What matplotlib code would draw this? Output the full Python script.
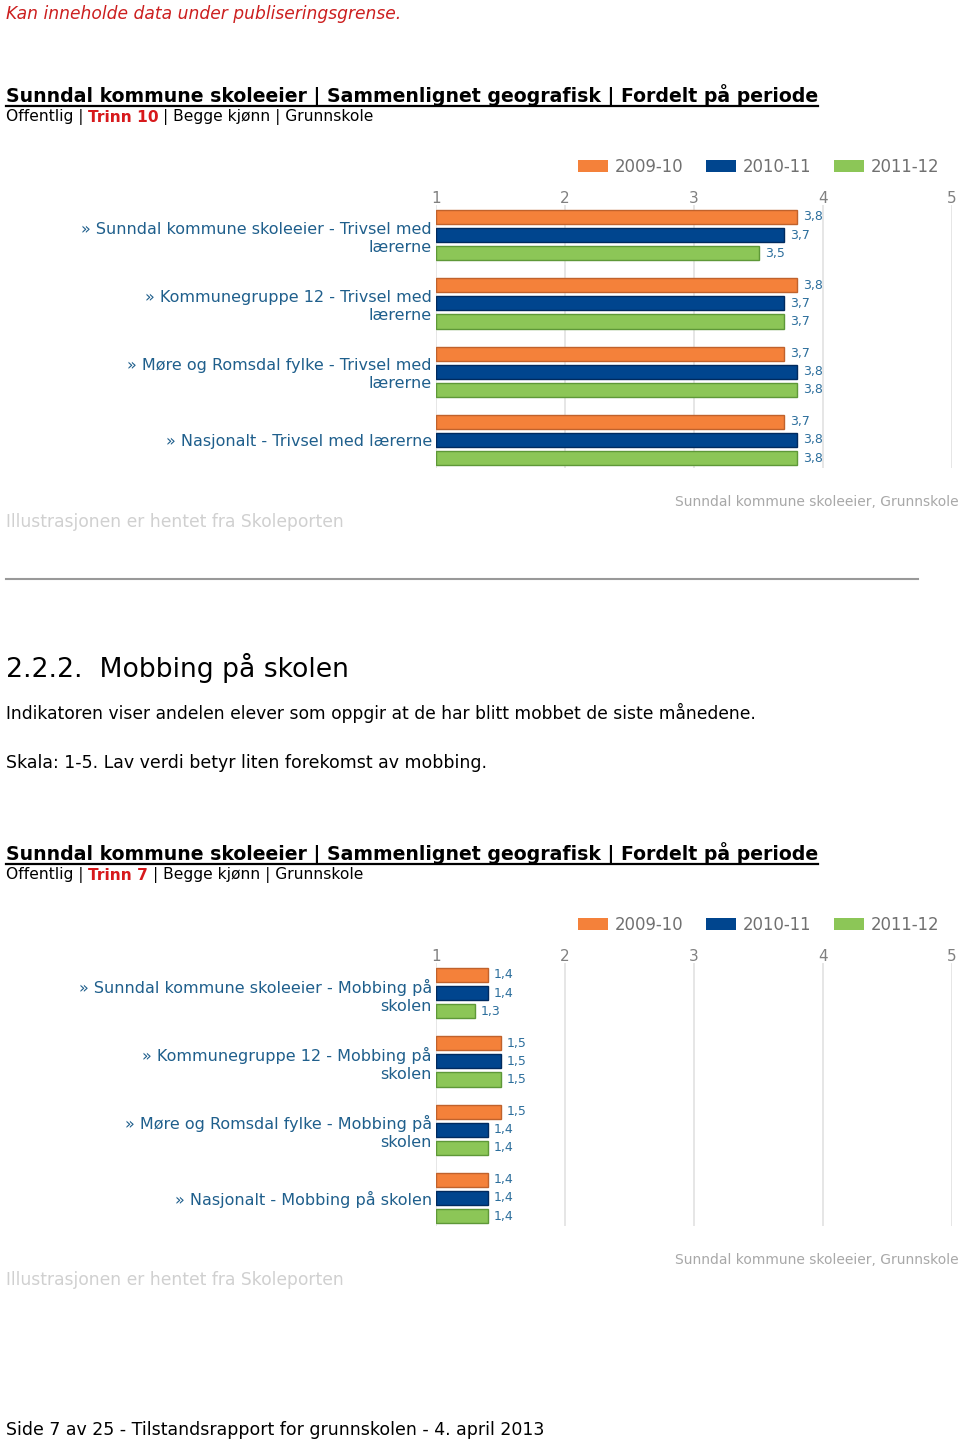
import numpy as np
import matplotlib as mpl
import matplotlib.pyplot as plt
from matplotlib.lines import Line2D
from matplotlib.patches import Patch

W, H = 960, 1443

periods = ["2009-10", "2010-11", "2011-12"]
bar_colors = ["#f4813a", "#00458e", "#8cc657"]
edge_colors = ["#c0622c", "#002a5e", "#5e9838"]

# Trinn 10 - Trivsel med lærerne
labels_trivsel = [
    "» Sunndal kommune skoleeier - Trivsel med\nlærerne",
    "» Kommunegruppe 12 - Trivsel med\nlærerne",
    "» Møre og Romsdal fylke - Trivsel med\nlærerne",
    "» Nasjonalt - Trivsel med lærerne",
]
trivsel_0910 = [3.8, 3.8, 3.7, 3.7]
trivsel_1011 = [3.7, 3.7, 3.8, 3.8]
trivsel_1112 = [3.5, 3.7, 3.8, 3.8]

# Trinn 7 - Mobbing på skolen
labels_mobbing = [
    "» Sunndal kommune skoleeier - Mobbing på\nskolen",
    "» Kommunegruppe 12 - Mobbing på\nskolen",
    "» Møre og Romsdal fylke - Mobbing på\nskolen",
    "» Nasjonalt - Mobbing på skolen",
]
mobbing_0910 = [1.4, 1.5, 1.5, 1.4]
mobbing_1011 = [1.4, 1.5, 1.4, 1.4]
mobbing_1112 = [1.3, 1.5, 1.4, 1.4]

x_ticks = [1, 2, 3, 4, 5]

mpl.rcParams["font.family"] = ["DejaVu Sans"]

fig = plt.figure(figsize=(W / 100, H / 100), dpi=100)
renderer = fig.canvas.get_renderer()


def fx(px):
    return px / W


def fy(py):
    return 1 - py / H


def text_row(x, y, pieces, size):
    """Draw text pieces side by side (text, color, weight)."""
    gap = 0.3 * size * 100 / 72
    for s, color, weight in pieces:
        t = fig.text(fx(x), fy(y), s, fontsize=size, color=color,
                     fontweight=weight, va="center", ha="left")
        bb = t.get_window_extent(renderer)
        x = x + bb.width + gap
    return t


def title_block(y, trinn):
    t = fig.text(fx(6), fy(y),
                 "Sunndal kommune skoleeier | Sammenlignet geografisk | Fordelt på periode",
                 fontsize=13.6, fontweight="bold", color="black", va="center")
    bb = t.get_window_extent(renderer)
    fig.add_artist(Line2D([bb.x0 / W, bb.x1 / W], [fy(y + 10)] * 2,
                          color="black", lw=1.6))
    text_row(6, y + 21, [("Offentlig |", "black", "normal"),
                         (trinn, "#d7191c", "bold"),
                         ("| Begge kjønn | Grunnskole", "black", "normal")], 11.2)


def bar_chart(top, bottom, legend_y, labels, series):
    ax = fig.add_axes([fx(436), fy(bottom), fx(952) - fx(436), (bottom - top) / H])
    n = len(labels)
    ypos = np.arange(n)
    off = 0.265
    h = 0.206
    for k, vals in enumerate(series):
        vals = np.asarray(vals)
        yy = ypos + (k - 1) * off
        ax.barh(yy, vals - 1, left=1, height=h, color=bar_colors[k],
                edgecolor=edge_colors[k], linewidth=1.0, zorder=3)
        for v, yv in zip(vals, yy):
            ax.annotate(f"{v:.1f}".replace(".", ","), xy=(v, yv),
                        xytext=(4.5, 0), textcoords="offset points",
                        va="center", ha="left", fontsize=9, color="#2c6e9c")
    ax.set_xlim(1, 5)
    ax.set_ylim(n - 1 + 0.41, -0.44)
    ax.set_xticks(x_ticks)
    ax.xaxis.tick_top()
    ax.tick_params(axis="x", length=0, pad=-0.5, labelsize=11, labelcolor="#808080")
    ax.set_yticks(ypos)
    ax.set_yticklabels(labels, fontsize=11.5, color="#1f5f8c",
                       multialignment="right", linespacing=1.25)
    ax.tick_params(axis="y", length=0, pad=3)
    ax.grid(axis="x", color="#e2e2e2", lw=1.2, zorder=0)
    for sp in ax.spines.values():
        sp.set_visible(False)

    handles = [Patch(facecolor=c, edgecolor="none") for c in bar_colors]
    fig.legend(handles, periods, loc="center left",
               bbox_to_anchor=(fx(578), fy(legend_y + 1)), ncol=3, frameon=False,
               fontsize=11.9, labelcolor="#707070", handlelength=1.8,
               handleheight=0.75, handletextpad=0.4, columnspacing=1.4,
               borderpad=0, borderaxespad=0)

    fig.text(fx(6), fy(bottom + 54), "Illustrasjonen er hentet fra Skoleporten",
             fontsize=12.3, color="#d0d0d0", va="center")
    fig.text(fx(675), fy(bottom + 34), "Sunndal kommune skoleeier, Grunnskole",
             fontsize=10, color="#a8a8a8", va="center")
    return ax


fig.text(fx(6), fy(14), "Kan inneholde data under publiseringsgrense.",
         fontsize=12.3, style="italic", color="#cc1f1f", va="center")

title_block(96, "Trinn 10")
bar_chart(205, 468, 166, labels_trivsel,
          [trivsel_0910, trivsel_1011, trivsel_1112])

fig.add_artist(Line2D([fx(6), fx(918)], [fy(579)] * 2, color="#999999", lw=1.5))

fig.text(fx(6), fy(668), "2.2.2.  Mobbing på skolen", fontsize=19.2,
         color="black", va="center")
fig.text(fx(6), fy(713),
         "Indikatoren viser andelen elever som oppgir at de har blitt mobbet de siste månedene.",
         fontsize=12.35, color="black", va="center")
fig.text(fx(6), fy(763), "Skala: 1-5. Lav verdi betyr liten forekomst av mobbing.",
         fontsize=12.5, color="black", va="center")

title_block(854, "Trinn 7")
bar_chart(963, 1226, 924, labels_mobbing,
          [mobbing_0910, mobbing_1011, mobbing_1112])

fig.text(fx(6), fy(1430),
         "Side 7 av 25 - Tilstandsrapport for grunnskolen - 4. april 2013",
         fontsize=12.55, color="black", va="center")

fig.savefig("out.png", dpi=100, facecolor="white")
